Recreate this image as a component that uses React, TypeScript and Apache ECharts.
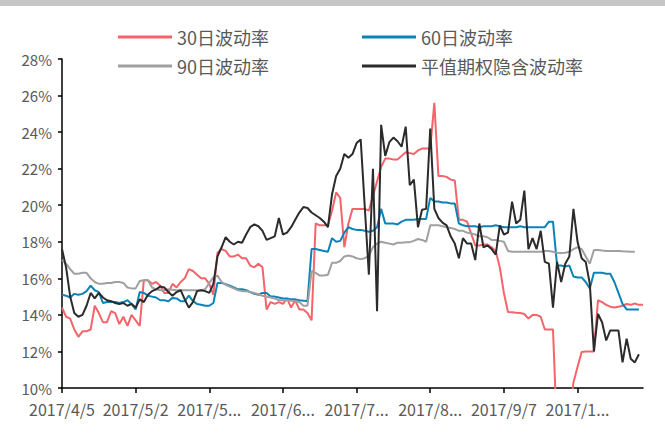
import React, { useEffect, useRef } from "react";
import * as echarts from "echarts";

// Trading days (categories), per month of 2017
const aprDays = [5, 6, 7, 10, 11, 12, 13, 14, 17, 18, 19, 20, 21, 24, 25, 26, 27, 28];
const mayDays = [2, 3, 4, 5, 8, 9, 10, 11, 12, 15, 16, 17, 18, 19, 22, 23, 24, 25, 26, 31];
const junDays = [1, 2, 5, 6, 7, 8, 9, 12, 13, 14, 15, 16, 19, 20, 21, 22, 23, 26, 27, 28, 29, 30];
const julDays = [3, 4, 5, 6, 7, 10, 11, 12, 13, 14, 17, 18, 19, 20, 21, 24, 25, 26, 27, 28, 31];
const augDays = [1, 2, 3, 4, 7, 8, 9, 10, 11, 14, 15, 16, 17, 18, 21, 22, 23, 24, 25, 28, 29, 30, 31];
const sepDays = [1, 4, 5, 6, 7, 8, 11, 12, 13, 14, 15, 18, 19, 20, 21, 22, 25, 26, 27, 28, 29];
const octDays = [9, 10, 11, 12, 13, 16, 17, 18, 19, 20, 23, 24, 25, 26, 27, 30, 31];
const novDays = [1];

const monthDays: [number, number[]][] = [
  [4, aprDays], [5, mayDays], [6, junDays], [7, julDays],
  [8, augDays], [9, sepDays], [10, octDays], [11, novDays],
];
const dates: string[] = [];
monthDays.forEach(([m, days]) => days.forEach((d) => dates.push(`2017/${m}/${d}`)));

const seriesNames = ["30日波动率", "60日波动率", "90日波动率", "平值期权隐含波动率"];

// values in %
const vol30 = [
  14.4, 13.9, 13.8, 13.2, 12.8, 13.1, 13.1, 13.2, 14.5, 14.1,
  13.6, 13.6, 14.2, 14.1, 13.5, 13.9, 13.4, 14.0, 13.7, 13.4,
  15.9, 15.9, 15.7, 15.8, 15.6, 15.2, 15.2, 15.7, 15.5, 15.8,
  16.0, 16.5, 16.4, 16.2, 16.0, 16.0, 15.7, 15.1, 17.4, 17.6,
  17.5, 17.2, 17.2, 17.3, 17.1, 17.1, 16.7, 16.6, 16.8, 16.6,
  14.3, 14.7, 14.6, 14.7, 14.6, 14.9, 14.4, 14.8, 14.3, 14.3,
  14.1, 13.7, 19.0, 18.9, 18.9, 18.9, 19.7, 20.7, 20.4, 17.7,
  19.0, 19.8, 19.8, 19.8, 19.8, 19.7, 20.5, 21.3, 22.1, 22.55,
  22.55, 22.5, 22.5, 22.7, 22.9, 22.85, 22.8, 23.0, 23.1, 23.1,
  23.1, 25.6, 21.6, 21.6, 21.55, 21.4, 21.35, 19.2, 19.2, 19.1,
  18.45, 17.8, 17.8, 17.85, 17.85, 17.7, 17.5, 16.6, 15.2, 14.16,
  14.15, 14.12, 14.1, 14.05, 13.8, 14.0, 14.0, 13.9, 13.2, 13.2,
  13.2, 7.5, 7.0, 7.5, 8.5, 10.3, 11.15, 11.97, 12.0, 12.0,
  12.0, 14.8, 14.7, 14.55, 14.45, 14.4, 14.45, 14.5, 14.6, 14.55,
  14.62, 14.55, 14.55,
];

const vol60 = [
  15.1, 15.05, 14.95, 15.15, 15.1, 15.15, 15.3, 15.6, 15.35, 15.25,
  14.65, 14.7, 14.7, 14.7, 14.65, 14.7, 14.8, 14.6, 14.3, 15.25,
  15.2, 15.05, 15.0, 14.95, 14.8, 14.8, 14.75, 14.93, 14.9, 14.75,
  14.75, 15.05, 14.75, 14.6, 14.55, 14.5, 14.5, 14.65, 15.75, 15.75,
  15.68, 15.6, 15.5, 15.4, 15.4, 15.35, 15.25, 15.15, 15.1, 15.2,
  15.2, 15.0, 15.0, 14.95, 14.9, 14.9, 14.85, 14.85, 14.8, 14.78,
  14.75, 17.6, 17.6, 17.55, 17.5, 17.45, 18.2, 18.0, 18.05, 18.5,
  18.8, 18.7, 18.65, 18.65, 18.6, 18.55, 18.6, 18.8, 19.8, 19.0,
  19.0, 19.0, 18.95, 19.1, 19.2, 19.2, 19.2, 19.25, 19.25, 19.25,
  20.4, 20.2, 20.2, 20.15, 20.15, 20.1, 20.1, 19.0, 18.9, 18.85,
  18.85, 18.85, 18.8, 18.85, 18.85, 18.85, 18.9, 18.85, 18.8, 18.8,
  18.8, 18.8, 18.85, 18.8, 18.8, 18.8, 18.8, 18.8, 18.8, 19.1,
  19.1, 16.7, 16.7, 16.65, 16.7, 16.1, 16.05, 16.05, 15.8, 15.45,
  16.3, 16.3, 16.3, 16.25, 16.25, 15.8, 15.2, 14.6, 14.3, 14.3,
  14.3, 14.3,
];

const vol90 = [
  17.0, 16.8, 16.5, 16.25, 16.25, 16.3, 16.3, 16.0, 15.8, 15.7,
  15.7, 15.75, 15.75, 15.8, 15.8, 15.75, 15.5, 15.45, 15.45, 15.85,
  15.9, 15.9, 15.5, 15.4, 15.35, 15.35, 15.4, 15.38, 15.35, 15.35,
  15.35, 15.35, 15.35, 15.35, 15.35, 15.4, 15.75, 16.05, 16.15, 15.8,
  15.65, 15.55, 15.45, 15.35, 15.3, 15.3, 15.25, 15.2, 15.13, 15.05,
  15.0, 14.95, 14.9, 14.8, 14.8, 14.8, 14.78, 14.75, 14.7, 14.5,
  14.5, 16.4, 16.3, 16.15, 16.15, 16.2, 16.85, 16.85, 16.95, 17.2,
  17.25, 17.2, 17.1, 17.05, 17.1, 17.25, 17.7, 17.9, 18.0, 17.95,
  17.9, 17.85, 17.95, 17.95, 17.98, 17.98, 18.05, 18.15, 18.1, 18.0,
  18.9, 18.9, 18.9, 18.85, 18.8, 18.75, 18.7, 18.6, 18.6, 18.5,
  18.45, 18.4, 18.3, 18.3, 18.25, 18.1, 18.1, 18.05, 18.0, 17.5,
  17.45, 17.45, 17.45, 17.45, 17.45, 17.45, 17.45, 17.45, 17.5, 17.5,
  17.45, 17.4, 17.38, 17.4, 17.45, 17.6, 17.7, 17.6, 17.2, 16.8,
  17.55, 17.55, 17.52, 17.5, 17.5, 17.5, 17.5, 17.48, 17.47, 17.45,
  17.45,
];

const volImplied = [
  17.6, 16.6, 15.0, 14.1, 13.9, 14.0, 14.5, 15.2, 14.9, 15.2,
  14.95, 14.8, 14.75, 14.65, 14.6, 14.65, 14.5, 14.6, 14.4, 14.85,
  14.7, 15.1, 15.3, 15.4, 15.55, 15.5, 15.25, 15.05, 15.25, 15.35,
  14.85, 14.4, 14.7, 15.3, 15.35, 15.3, 15.2, 15.7, 17.2, 17.7,
  18.25, 18.0, 17.85, 18.0, 17.95, 18.4, 18.8, 18.95, 18.85, 18.6,
  18.1, 18.2, 18.3, 19.3, 18.4, 18.5, 18.8, 19.2, 19.6, 19.9,
  19.85, 19.6, 19.45, 19.3, 19.1, 18.8, 20.6, 21.6, 22.0, 22.8,
  22.6, 22.8, 23.4, 23.6, 19.9, 16.2, 22.0, 14.2, 24.4, 22.7,
  23.45, 23.7, 23.5, 23.2, 24.3, 21.1, 21.4, 18.8, 19.75, 19.8,
  24.2, 19.8, 19.3, 19.05, 18.9, 18.3, 17.9, 17.1, 18.2, 17.9,
  17.9, 17.0, 19.0, 17.7, 17.8, 17.6, 17.3, 18.9, 18.4, 18.5,
  20.2, 19.0, 19.2, 20.8, 17.6, 18.2, 17.6, 18.6, 16.9, 16.8,
  14.4, 16.9, 15.8, 16.8, 17.2, 19.8, 18.0, 17.1, 16.9, 15.7,
  12.0, 14.05, 13.6, 12.6, 13.15, 13.15, 13.15, 11.4, 12.7, 11.6,
  11.4, 11.85,
];

const yMin = 10;
const yMax = 28;
const yStep = 2;

const colors = ["#F4646A", "#0C83B6", "#A0A0A0", "#2B2B2B"];

export default function App() {
  const ref = useRef<HTMLDivElement>(null);
  useEffect(() => {
    if (!ref.current) return;
    const chart = echarts.init(ref.current, undefined, { renderer: "svg" });
    const values = [vol30, vol60, vol90, volImplied];
    const labelColor = "#595959";
    const legendText = {
      color: labelColor,
      fontSize: 18,
      fontFamily: "'Noto Sans CJK SC', sans-serif",
    };
    const legendBase = {
      left: 118,
      padding: 0,
      icon: "rect",
      itemWidth: 54,
      itemHeight: 3,
      itemGap: 93,
      textStyle: legendText,
    };
    chart.setOption({
      animation: false,
      backgroundColor: "#ffffff",
      color: colors,
      graphic: [
        {
          type: "rect",
          left: 0,
          top: 0,
          shape: { width: 665, height: 6 },
          style: { fill: "#c6c6c6" },
          silent: true,
        },
      ],
      legend: [
        { ...legendBase, data: [seriesNames[0], seriesNames[1]], top: 28 },
        { ...legendBase, data: [seriesNames[2], seriesNames[3]], top: 57 },
      ],
      grid: { left: 62, right: 22, top: 59, bottom: 46 },
      xAxis: {
        type: "category",
        data: dates,
        boundaryGap: false,
        axisLine: { lineStyle: { color: "#000", width: 1.5 } },
        axisTick: { interval: 17, length: 5, lineStyle: { color: "#000", width: 1.5 } },
        axisLabel: {
          interval: 17,
          color: labelColor,
          fontSize: 16,
          fontFamily: "'Noto Sans CJK SC', sans-serif",
          margin: 13,
          formatter: (v: string) => (v.length > 8 ? v.slice(0, 6) + "..." : v),
        },
        splitLine: { show: false },
      },
      yAxis: {
        type: "value",
        min: yMin,
        max: yMax,
        interval: yStep,
        axisLine: { show: true, lineStyle: { color: "#000", width: 1.5 } },
        axisTick: { show: true, length: 4, lineStyle: { color: "#000", width: 1.5 } },
        axisLabel: {
          color: labelColor,
          fontSize: 15,
          fontFamily: "'Noto Sans CJK SC', sans-serif",
          margin: 10,
          formatter: "{value}%",
        },
        splitLine: { show: false },
      },
      series: values.map((arr, k) => ({
        name: seriesNames[k],
        type: "line",
        data: arr,
        showSymbol: false,
        symbol: "none",
        clip: true,
        lineStyle: { width: 2, color: colors[k] },
        itemStyle: { color: colors[k] },
        z: 2 + k,
      })),
    });
    return () => chart.dispose();
  }, []);
  return (
    <div
      ref={ref}
      style={{ position: "fixed", left: 0, top: 0, width: 665, height: 434, background: "#fff" }}
    />
  );
}
